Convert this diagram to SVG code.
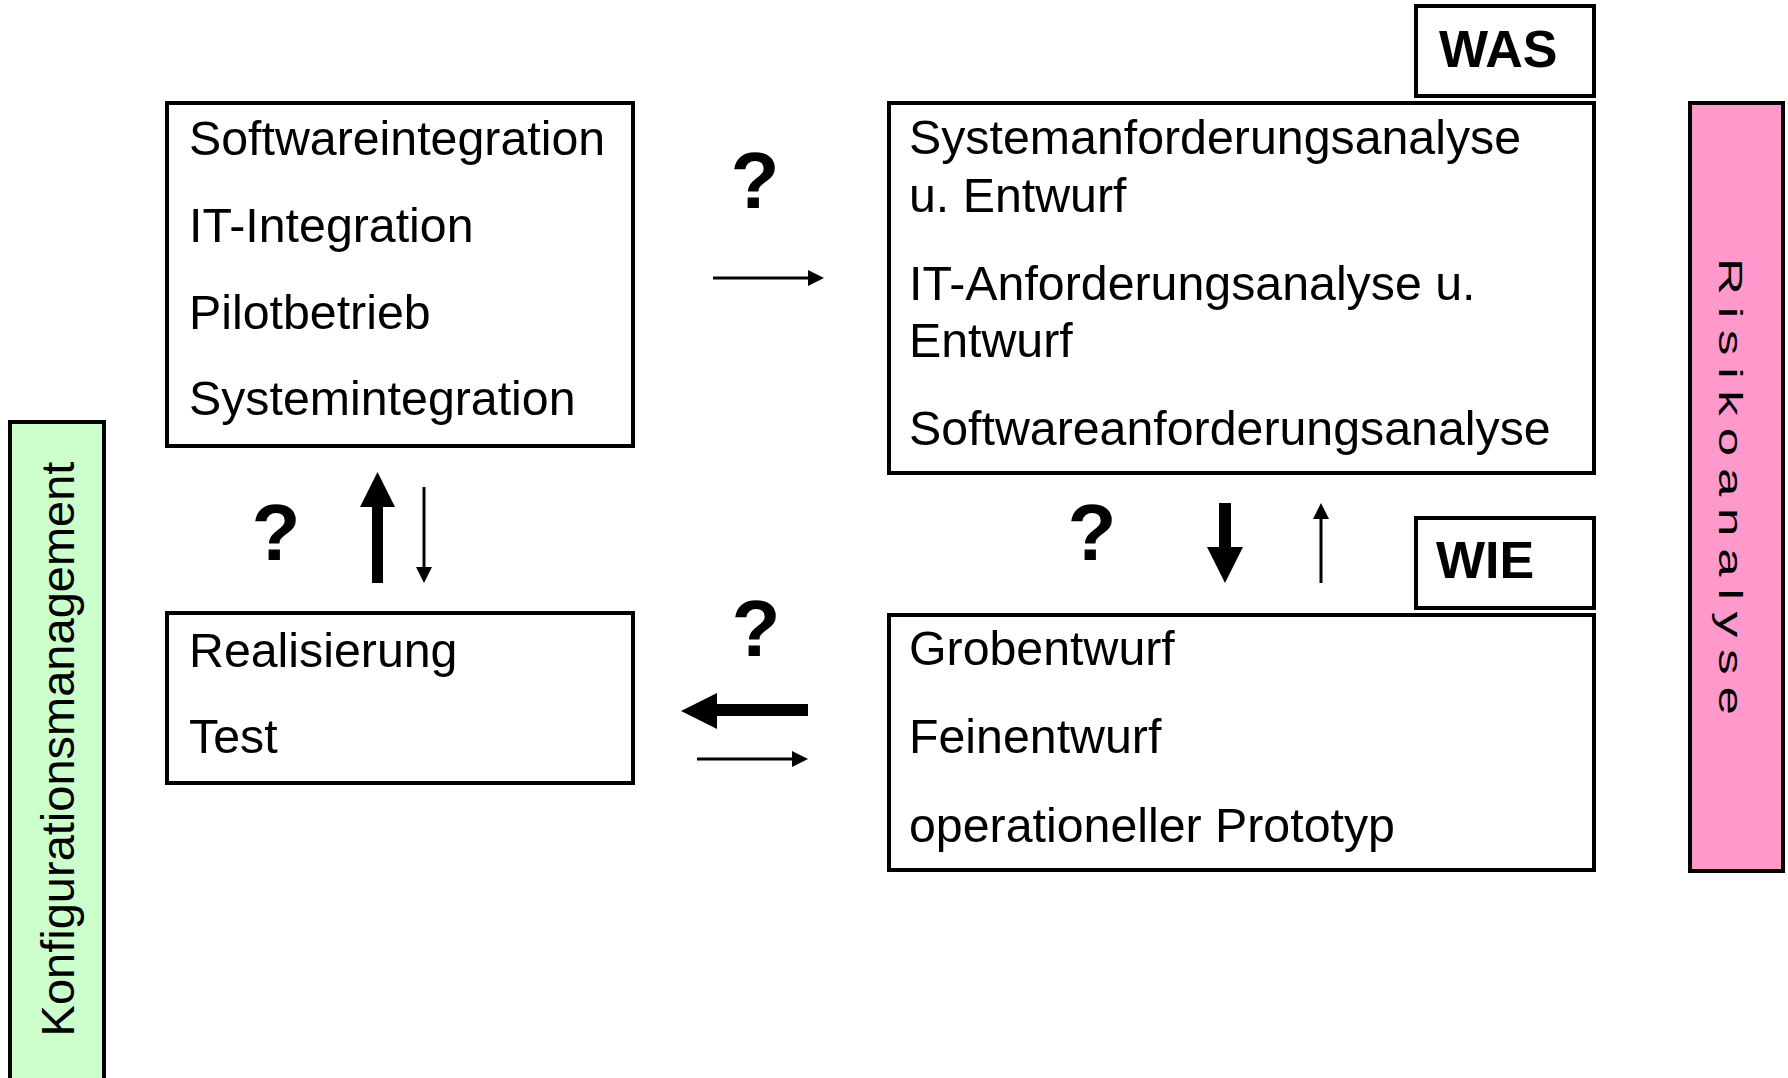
<svg xmlns="http://www.w3.org/2000/svg" width="1788" height="1078" viewBox="0 0 1788 1078">
<style>
.box{fill:#fff;stroke:#000;stroke-width:4}
.t{font-family:"Liberation Sans",Arial,sans-serif;font-size:48.3px;fill:#000}
.k{font-family:"Liberation Sans",Arial,sans-serif;font-size:47px;fill:#000}
.b{font-family:"Liberation Sans",Arial,sans-serif;font-size:52px;font-weight:bold;fill:#000}
.q{font-family:"Liberation Sans",Arial,sans-serif;font-size:80px;font-weight:bold;fill:#000;text-anchor:middle}
.thin{stroke:#000;stroke-width:3;fill:none}
.thick{fill:#000;stroke:none}
</style>
<defs>
<marker id="ah" markerUnits="userSpaceOnUse" markerWidth="16" markerHeight="16" refX="0" refY="8" orient="auto">
<path d="M0,0 L16,8 L0,16 z" fill="#000"/>
</marker>
</defs>
<rect width="1788" height="1078" fill="#fff"/>

<g id="konfigurationsmanagement">
<rect x="10" y="422" width="94" height="700" fill="#CCFFCC" stroke="#000" stroke-width="4"/>
<text class="k" x="0" y="0" text-anchor="middle" transform="translate(74,749) rotate(-90)">Konfigurationsmanagement</text>
</g>

<g id="risikoanalyse">
<rect x="1690" y="103" width="93" height="768" fill="#FF99CC" stroke="#000" stroke-width="4"/>
<text x="0" y="0" transform="translate(1719,258) rotate(90) scale(1.5,1)" style="font-family:'Liberation Sans',Arial,sans-serif;font-size:34px;letter-spacing:7.9px;fill:#000">Risikoanalyse</text>
</g>

<g id="integration">
<rect class="box" x="167" y="103" width="466" height="343"/>
<text class="t" x="189" y="155">Softwareintegration</text>
<text class="t" x="189" y="242">IT-Integration</text>
<text class="t" x="189" y="329">Pilotbetrieb</text>
<text class="t" x="189" y="415">Systemintegration</text>
</g>

<g id="was-label">
<rect class="box" x="1416" y="6" width="178" height="90"/>
<text class="b" x="1439" y="67">WAS</text>
</g>

<g id="anforderungen">
<rect class="box" x="889" y="103" width="705" height="370"/>
<text class="t" x="909" y="154">Systemanforderungsanalyse</text>
<text class="t" x="909" y="212">u. Entwurf</text>
<text class="t" x="909" y="300">IT-Anforderungsanalyse u.</text>
<text class="t" x="909" y="357">Entwurf</text>
<text class="t" x="909" y="445">Softwareanforderungsanalyse</text>
</g>

<g id="realisierung">
<rect class="box" x="167" y="613" width="466" height="170"/>
<text class="t" x="189" y="667">Realisierung</text>
<text class="t" x="189" y="753">Test</text>
</g>

<g id="wie-label">
<rect class="box" x="1416" y="518" width="178" height="90"/>
<text class="b" x="1436" y="578">WIE</text>
</g>

<g id="entwurf">
<rect class="box" x="889" y="615" width="705" height="255"/>
<text class="t" x="909" y="665">Grobentwurf</text>
<text class="t" x="909" y="753">Feinentwurf</text>
<text class="t" x="909" y="842">operationeller Prototyp</text>
</g>

<g id="connectors">
<line class="thin" x1="713" y1="278" x2="808" y2="278" marker-end="url(#ah)"/>
<line class="thin" x1="424" y1="487" x2="424" y2="567" marker-end="url(#ah)"/>
<line class="thin" x1="1321" y1="583" x2="1321" y2="519" marker-end="url(#ah)"/>
<line class="thin" x1="697" y1="759" x2="792" y2="759" marker-end="url(#ah)"/>
<polygon class="thick" points="372,583 383,583 383,507 395,507 377.5,472 360,507 372,507"/>
<polygon class="thick" points="1219,503 1231,503 1231,547 1243,547 1225,583 1207,547 1219,547"/>
<polygon class="thick" points="808,704 808,716 717,716 717,729 681,711 717,693 717,704"/>
</g>

<g id="question-marks">
<text class="q" x="755" y="208">?</text>
<text class="q" x="276" y="560">?</text>
<text class="q" x="1092" y="560">?</text>
<text class="q" x="756" y="656">?</text>
</g>
</svg>
